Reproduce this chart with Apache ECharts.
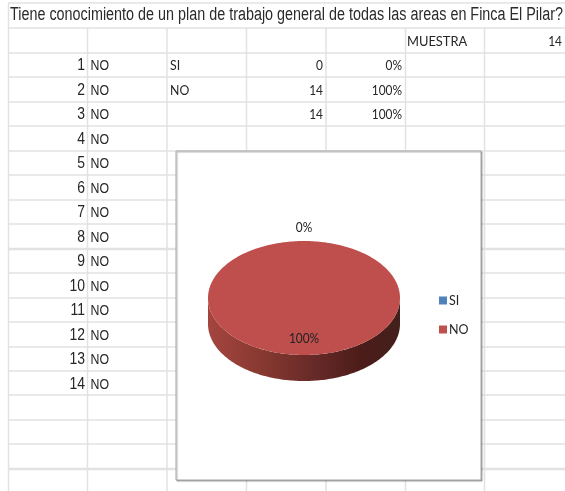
<!DOCTYPE html>
<html><head><meta charset="utf-8">
<style>html,body{margin:0;padding:0;background:#fff}#c{width:565px;height:491px;filter:blur(0.35px)}</style>
<script src="https://cdn.jsdelivr.net/npm/echarts@6/dist/echarts.min.js"></script>
</head><body><div id="c"></div>
<script>
const titleText = 'Tiene conocimiento de un plan de trabajo general de todas las areas en Finca El Pilar?';
const sampleLabel = 'MUESTRA';
const sampleSize = 14;
const respondentIds = [1,2,3,4,5,6,7,8,9,10,11,12,13,14];
const responses = ['NO','NO','NO','NO','NO','NO','NO','NO','NO','NO','NO','NO','NO','NO'];
const categories = ['SI','NO'];
const counts = [0,14];
const shares = ['0%','100%'];
const totalCount = 14;
const totalShare = '100%';

const ARIAL = '"Liberation Sans",sans-serif';
const BODY = 'Lato,"Liberation Sans",sans-serif';
const colX = [8.5,87.5,167,246.5,326,405.5,484.5];
const rowY = [28,53,77,102,126,151,175,200,224,249,273,298,322,347,371,395,420,444,469];
const lineCol = '#e2e2e2';
const els = [];
function line(x1,y1,x2,y2,w){els.push({type:'line',z:0,shape:{x1,y1,x2,y2},style:{stroke:lineCol,lineWidth:w||1.5}});}
function txt(t,x,y,align,size,font,sx,fill){els.push({type:'text',z:0,x,y,scaleX:sx,scaleY:1,style:{text:String(t),align,verticalAlign:'middle',font:size+'px '+font,fill:fill||'#262626'}});}
line(8,3,565,3,1.5);
line(8.5,3,8.5,491);
colX.slice(1).forEach(x=>line(x,28,x,491));
rowY.forEach((y,i)=>line(8,y,565,y,(i===9||i===18)?2.5:1.5));
const mc=document.createElement('canvas').getContext('2d');
mc.font='18px '+ARIAL;
txt(titleText,10,15.5,'left',18,ARIAL,553/mc.measureText(titleText).width,'#2b2b2b');
txt(sampleLabel,407,41,'left',14,BODY,0.92);
txt(sampleSize,562,41,'right',14,BODY,0.85);
respondentIds.forEach((id,i)=>{
  const y=65.5+i*24.5;
  txt(id,85,y,'right',17,ARIAL,0.82);
  txt(responses[i],90.5,y+0.5,'left',14.5,ARIAL,0.85);
});
categories.forEach((c,i)=>{
  const y=65.5+i*24.5;
  txt(c,170,y,'left',14,BODY,0.88);
  txt(counts[i],323,y,'right',14,BODY,0.85);
  txt(shares[i],402,y,'right',14,BODY,0.85);
});
txt(totalCount,323,114.5,'right',14,BODY,0.85);
txt(totalShare,402,114.5,'right',14,BODY,0.85);
els.push({type:'rect',z:1,shape:{x:176,y:151,width:305,height:329},
  style:{fill:'#fff',stroke:'#a8a8a8',lineWidth:1,shadowColor:'rgba(0,0,0,0.3)',shadowBlur:1,shadowOffsetX:1,shadowOffsetY:1}});

const RX=96, RY=57, DEPTH=26;
const labelFactor=[1.22,0.72];
function slicePts(cx,cy,a0,a1){
  const pts=[[cx,cy]], n=Math.max(2,Math.ceil((a1-a0)/0.02));
  for(let i=0;i<=n;i++){const a=a0+(a1-a0)*i/n;pts.push([cx+RX*Math.sin(a),cy-RY*Math.cos(a)]);}
  return pts;
}
function sidePts(cx,cy,a0,a1){
  const s=Math.max(a0,Math.PI/2), e=Math.min(a1,Math.PI*1.5);
  if(e<=s) return null;
  const up=[],down=[],n=Math.ceil((e-s)/0.02);
  for(let i=0;i<=n;i++){const a=s+(e-s)*i/n;const x=cx+RX*Math.sin(a),y=cy-RY*Math.cos(a);up.push([x,y]);down.unshift([x,y+DEPTH]);}
  return up.concat(down);
}
function pieRender(idx){
  return function(params,api){
    const c=api.coord([api.value(0),api.value(1)]);
    const before=counts.slice(0,idx).reduce((a,b)=>a+b,0);
    const sum=counts.reduce((a,b)=>a+b,0);
    const a0=before/sum*2*Math.PI, a1=(before+api.value(2))/sum*2*Math.PI;
    const kids=[];
    if(a1>a0){
      const side=sidePts(c[0],c[1],a0,a1);
      if(side) kids.push({type:'polygon',shape:{points:side},style:{fill:new echarts.graphic.LinearGradient(0,0,1,0,[
        {offset:0,color:'#a5453f'},{offset:0.3,color:'#85382f'},{offset:0.55,color:'#672a28'},{offset:0.8,color:'#4c1c19'},{offset:1,color:'#43201c'}])}});
      kids.push({type:'polygon',shape:{points:slicePts(c[0],c[1],a0,a1)},style:{fill:'#BE4F4C'}});
    }
    const m=(a0+a1)/2, f=labelFactor[idx];
    kids.push({type:'text',x:c[0]+RX*f*Math.sin(m),y:c[1]-RY*f*Math.cos(m)-0.5,scaleX:0.85,
      style:{text:shares[idx],align:'center',verticalAlign:'middle',font:'14px '+BODY,fill:'#222'}});
    return {type:'group',children:kids};
  };
}
const colors=['#4F81BD','#C0504D'];
const chart=echarts.init(document.getElementById('c'),null,{renderer:'canvas'});
chart.setOption({
  animation:false,
  grid:{left:0,right:0,top:0,bottom:0},
  xAxis:{type:'value',min:0,max:565,show:false},
  yAxis:{type:'value',min:0,max:491,inverse:true,show:false},
  legend:{orient:'vertical',left:434,top:289,itemWidth:8,itemHeight:8,itemGap:16,icon:'rect',
    data:categories,textStyle:{fontFamily:BODY,fontSize:12.5,color:'#262626',padding:[0,0,0,-3]},selectedMode:false,itemStyle:{borderWidth:0}},
  graphic:{elements:els},
  series:categories.map((name,i)=>({
    type:'custom',name,z:5,coordinateSystem:'cartesian2d',
    itemStyle:{color:colors[i]},
    renderItem:pieRender(i),
    encode:{x:0,y:1},
    clip:false,
    data:[[304,298,counts[i]]]
  }))
});
</script></body></html>
